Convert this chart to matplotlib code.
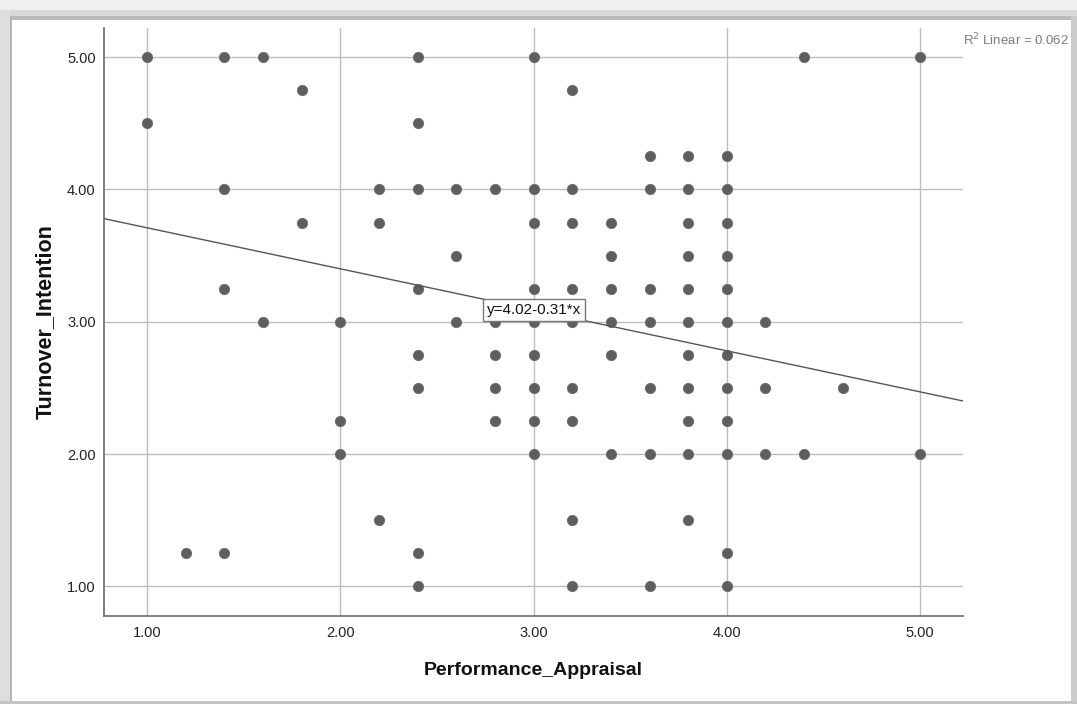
import matplotlib.pyplot as plt
from matplotlib.patches import Rectangle

plt.rcParams["font.family"] = ["Liberation Sans", "DejaVu Sans"]

# Performance_Appraisal / Turnover_Intention pairs, grouped by x column
perf_appraisal = (
    [1.0] * 2 + [1.2] * 1 + [1.4] * 4 + [1.6] * 2 + [1.8] * 2
    + [2.0] * 3 + [2.2] * 3 + [2.4] * 8 + [2.6] * 3 + [2.8] * 5
    + [3.0] * 9 + [3.2] * 9 + [3.4] * 6 + [3.6] * 7 + [3.8] * 11
    + [4.0] * 12 + [4.2] * 3 + [4.4] * 2 + [4.6] * 1 + [5.0] * 2
)
turnover_intention = [
    5.0, 4.5,
    1.25,
    5.0, 4.0, 3.25, 1.25,
    5.0, 3.0,
    4.75, 3.75,
    3.0, 2.25, 2.0,
    4.0, 3.75, 1.5,
    5.0, 4.5, 4.0, 3.25, 2.75, 2.5, 1.25, 1.0,
    4.0, 3.5, 3.0,
    4.0, 3.0, 2.75, 2.5, 2.25,
    5.0, 4.0, 3.75, 3.25, 3.0, 2.75, 2.5, 2.25, 2.0,
    4.75, 4.0, 3.75, 3.25, 3.0, 2.5, 2.25, 1.5, 1.0,
    3.75, 3.5, 3.25, 3.0, 2.75, 2.0,
    4.25, 4.0, 3.25, 3.0, 2.5, 2.0, 1.0,
    4.25, 4.0, 3.75, 3.5, 3.25, 3.0, 2.75, 2.5, 2.25, 2.0, 1.5,
    4.25, 4.0, 3.75, 3.5, 3.25, 3.0, 2.75, 2.5, 2.25, 2.0, 1.25, 1.0,
    3.0, 2.5, 2.0,
    5.0, 2.0,
    2.5,
    5.0, 2.0,
]

intercept = 4.02
slope = -0.31
r_squared = 0.062
ticks = [1.0, 2.0, 3.0, 4.0, 5.0]
tick_labels = ["1.00", "2.00", "3.00", "4.00", "5.00"]

W, H = 1077, 704
fig = plt.figure(figsize=(W / 100, H / 100), dpi=100, facecolor="white")


def band(x0, y0, x1, y1, color):
    # pixel box measured from the top-left corner
    fig.add_artist(Rectangle((x0 / W, 1 - y1 / H), (x1 - x0) / W, (y1 - y0) / H,
                             transform=fig.transFigure, facecolor=color,
                             edgecolor="none", zorder=0))


# window-style frame around the chart
band(0, 0, W, 10, "#efefef")
band(0, 10, W, 16, "#d8d8d8")
band(12, 16, W, 20, "#bcbcbc")
band(0, 10, 10, H, "#dedede")
band(10, 16, 12, H, "#b4b4b4")
band(1071, 16, W, H, "#cbcbcb")
band(0, 701, W, H, "#c4c4c4")

ax = fig.add_axes([104 / W, 1 - 616 / H, (963 - 104) / W, (616 - 28) / H])
ax.set_xlim(0.777, 5.222)
ax.set_ylim(0.776, 5.22)

ax.set_xticks(ticks)
ax.set_xticklabels(tick_labels)
ax.set_yticks(ticks)
ax.set_yticklabels(tick_labels)
ax.tick_params(length=0, labelsize=10.5, colors="#222222", pad=7)
ax.tick_params(axis="y", pad=6)
ax.grid(True, color="#bdbdbd", linewidth=1)
ax.set_axisbelow(True)

for side in ["top", "right"]:
    ax.spines[side].set_visible(False)
for side in ["left", "bottom"]:
    ax.spines[side].set_color("#6a6a6a")
    ax.spines[side].set_linewidth(1.2)

ax.scatter(perf_appraisal, turnover_intention, s=55, color="#5e5e5e",
           edgecolors="#6c6c6c", linewidths=0.6, zorder=3)

# fitted line across the whole x range
x0, x1 = ax.get_xlim()
ax.plot([x0, x1], [intercept + slope * x0, intercept + slope * x1],
        color="#555555", linewidth=1, zorder=4)

ax.text(3.0, intercept + slope * 3.0, f"y={intercept:.2f}{slope:.2f}*x",
        ha="center", va="center", fontsize=11, color="#111111", zorder=5,
        bbox=dict(boxstyle="square,pad=0.25", facecolor="white",
                  edgecolor="#777777", linewidth=1))

ax.set_xlabel("Performance_Appraisal", fontsize=14, fontweight="bold",
              color="#111111", labelpad=16)
ax.set_ylabel("Turnover_Intention", fontsize=15.5, fontweight="bold",
              color="#111111", labelpad=8)

fig.text(1069 / W, 1 - 40 / H, f"R$^2$ Linear = {r_squared:.3f}",
         ha="right", va="center", fontsize=9.5, color="#7a7a7a")

fig.savefig("out.png", dpi=100)
